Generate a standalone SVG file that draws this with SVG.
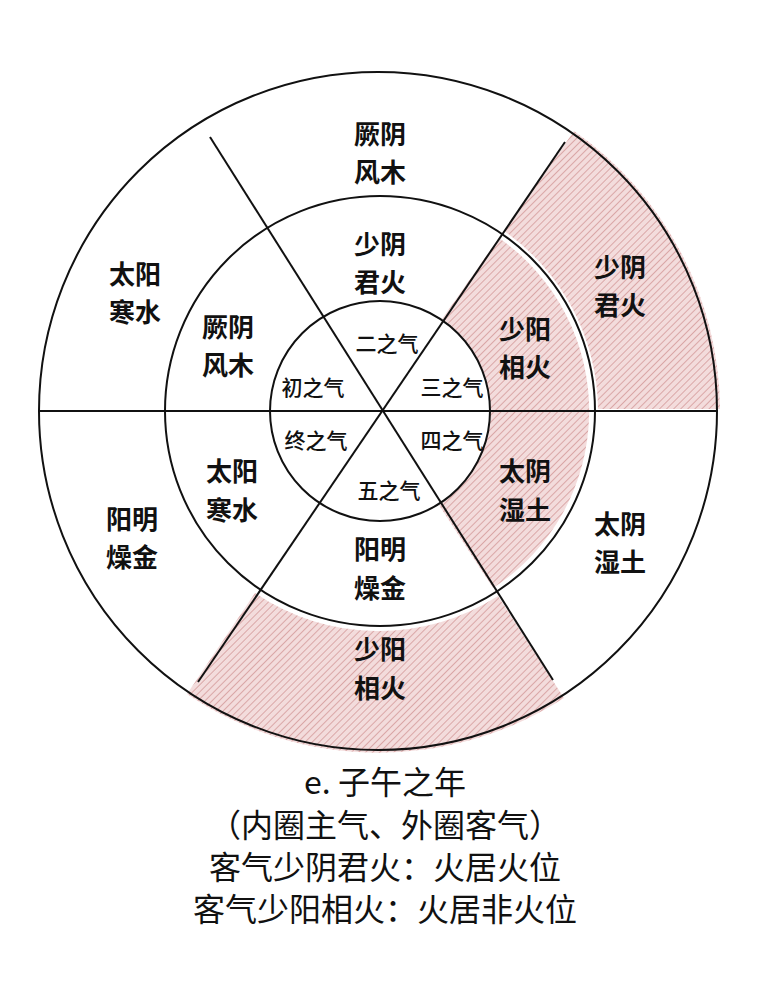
<svg xmlns="http://www.w3.org/2000/svg" width="769" height="1000" viewBox="0 0 769 1000">
<defs>
<pattern id="h" width="5" height="5" patternUnits="userSpaceOnUse" patternTransform="rotate(45)">
<rect width="5" height="5" fill="#f3dcdc"/><line x1="0" y1="0" x2="0" y2="5" stroke="#d49a9a" stroke-width="1.6"/>
</pattern>
</defs>
<style>
.c{fill:none;stroke:#111;stroke-width:2}
.t{font-family:"Noto Sans CJK SC",sans-serif;font-size:26px;font-weight:600;fill:#111;text-anchor:middle}
.s{font-family:"Noto Sans CJK SC",sans-serif;font-size:21px;font-weight:500;fill:#111;text-anchor:middle}
.b{font-family:"Noto Sans CJK SC",sans-serif;font-size:32px;fill:#111;text-anchor:middle}
</style>
<rect width="769" height="1000" fill="#fff"/>
<g id="shading" fill="url(#h)">
<path d="M504,231 L574,131 A342 342 0 0 1 720,409 L598,409 A220 220 0 0 0 504,231 Z"/>
<path d="M442,319 L499,238 A211 211 0 0 1 493,588 L439,505 A112 112 0 0 0 442,319 Z"/>
<path d="M498,596 L564,698 A342 342 0 0 1 187,694 L255,593 A220 220 0 0 0 498,596 Z"/>
</g>
<g id="connectors">
<circle class="c" cx="378" cy="411" r="339"/>
<circle class="c" cx="380" cy="411" r="215"/>
<circle class="c" cx="380" cy="411" r="110"/>
<line class="c" x1="38" y1="411" x2="718" y2="411"/>
<line class="c" x1="210" y1="137" x2="553" y2="680"/>
<line class="c" x1="565" y1="142" x2="198" y2="682"/>
</g>
<g id="outer">
<text class="t" x="380" y="144">厥阴</text><text class="t" x="380" y="182">风木</text>
<text class="t" x="135" y="284">太阳</text><text class="t" x="135" y="322">寒水</text>
<text class="t" x="620" y="277">少阴</text><text class="t" x="620" y="315">君火</text>
<text class="t" x="132" y="529">阳明</text><text class="t" x="132" y="567">燥金</text>
<text class="t" x="620" y="534">太阴</text><text class="t" x="620" y="572">湿土</text>
<text class="t" x="380" y="659">少阳</text><text class="t" x="380" y="698">相火</text>
</g>
<g id="middle">
<text class="t" x="380" y="254">少阴</text><text class="t" x="380" y="292">君火</text>
<text class="t" x="228" y="337">厥阴</text><text class="t" x="228" y="375">风木</text>
<text class="t" x="525" y="339">少阳</text><text class="t" x="525" y="377">相火</text>
<text class="t" x="232" y="481">太阳</text><text class="t" x="232" y="520">寒水</text>
<text class="t" x="525" y="481">太阴</text><text class="t" x="525" y="520">湿土</text>
<text class="t" x="380" y="559">阳明</text><text class="t" x="380" y="598">燥金</text>
</g>
<g id="inner">
<text class="s" x="387" y="351">二之气</text>
<text class="s" x="313" y="395">初之气</text>
<text class="s" x="452" y="395">三之气</text>
<text class="s" x="316" y="448">终之气</text>
<text class="s" x="452" y="448">四之气</text>
<text class="s" x="389" y="498">五之气</text>
</g>
<g id="caption">
<text class="b" x="385" y="794">e. 子午之年</text>
<text class="b" x="385" y="837">（内圈主气、外圈客气）</text>
<text class="b" x="385" y="879">客气少阴君火：火居火位</text>
<text class="b" x="385" y="921">客气少阳相火：火居非火位</text>
</g>
</svg>
